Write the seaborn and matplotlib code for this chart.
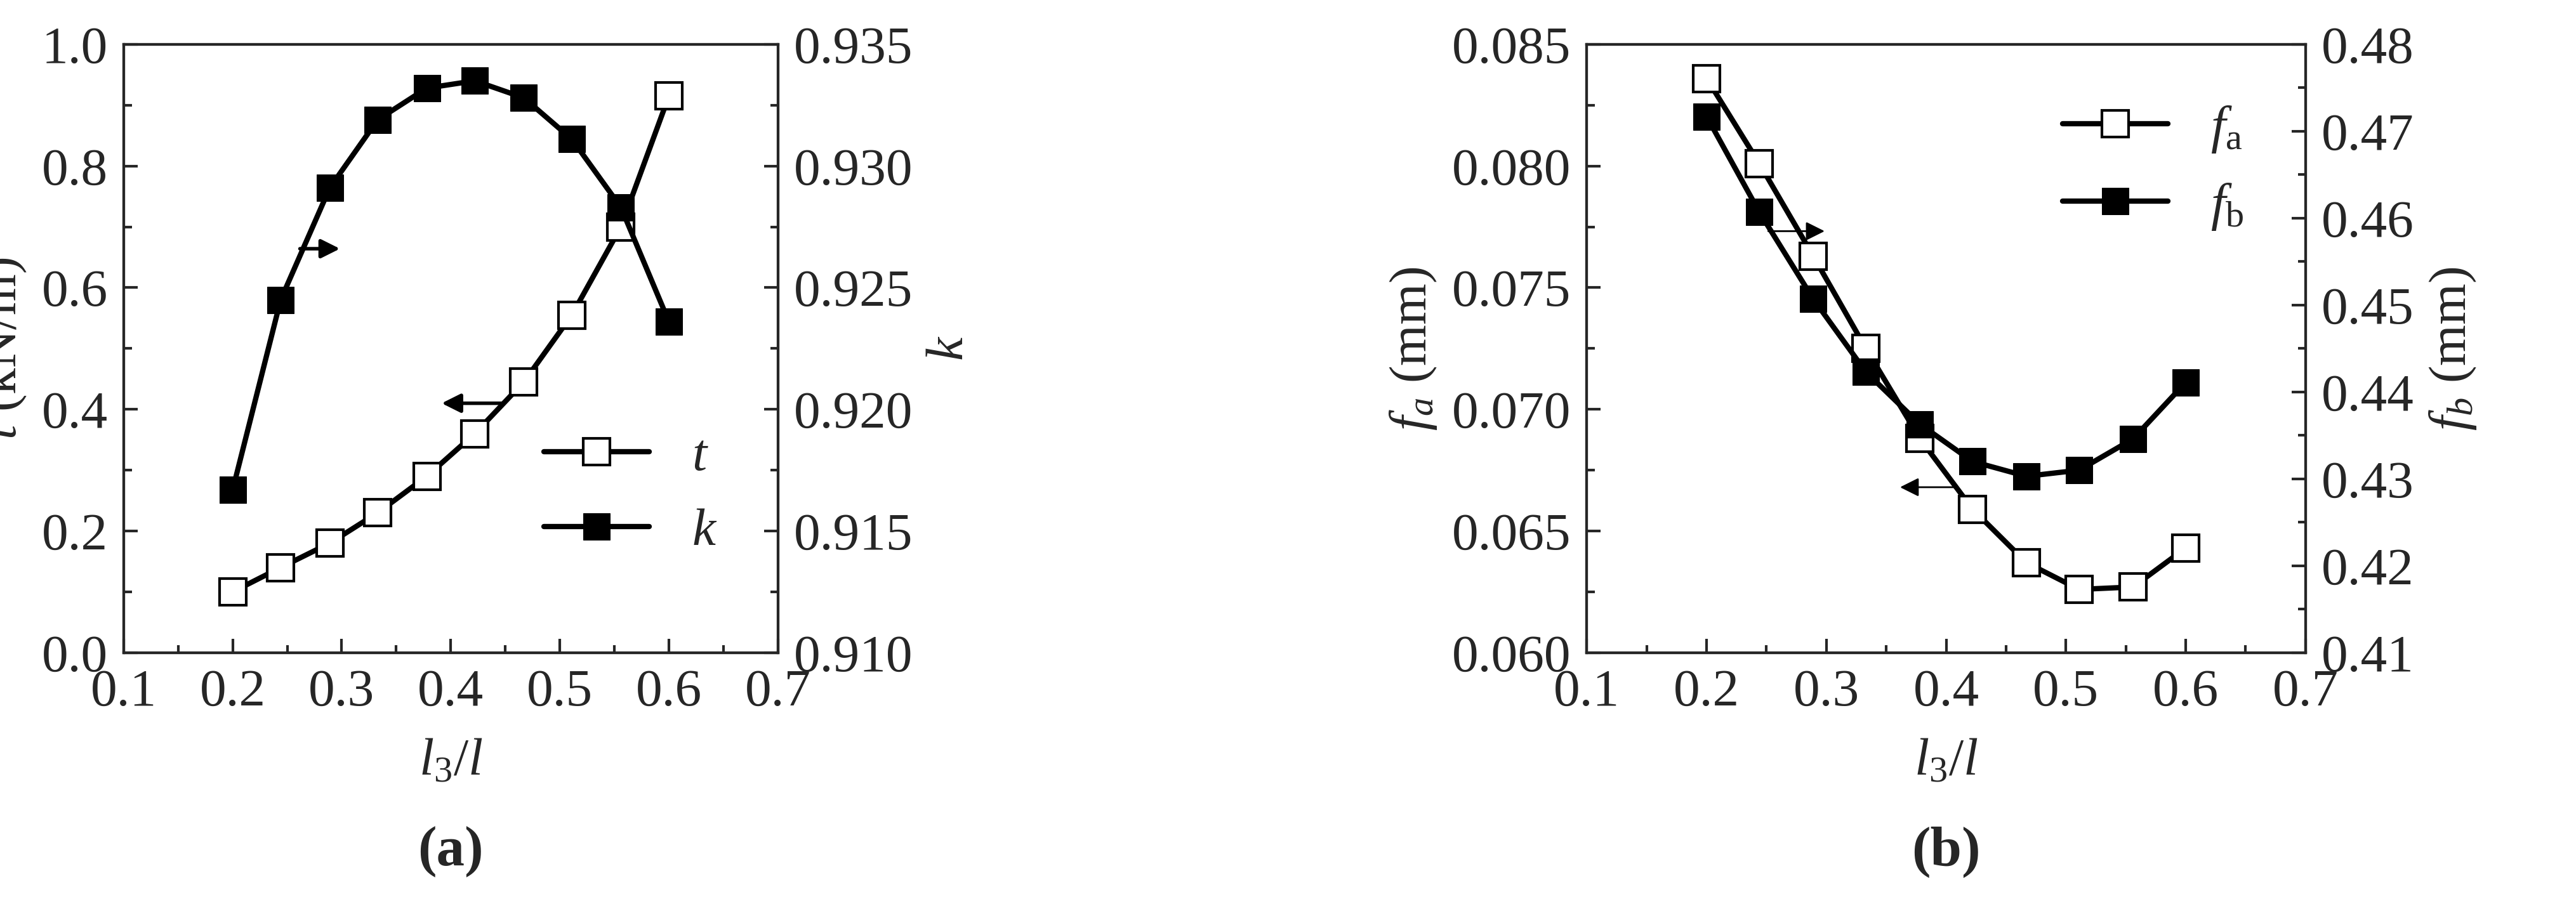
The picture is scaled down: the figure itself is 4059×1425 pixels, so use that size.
import numpy as np
import matplotlib
matplotlib.use('Agg')
import matplotlib.pyplot as plt
import seaborn as sns
from matplotlib.ticker import MultipleLocator

sns.set_style('ticks')
plt.rcParams['font.family'] = ['Liberation Serif', 'DejaVu Serif']
plt.rcParams['mathtext.fontset'] = 'custom'
plt.rcParams['mathtext.it'] = 'Liberation Serif:italic'
plt.rcParams['mathtext.rm'] = 'Liberation Serif'

ratio = [0.2, 0.244, 0.289, 0.333, 0.378, 0.422, 0.467, 0.511, 0.556, 0.6]
t_vals = [0.10, 0.14, 0.18, 0.23, 0.29, 0.36, 0.445, 0.555, 0.70, 0.915]
k_vals = [0.9167, 0.9245, 0.9291, 0.9319, 0.9332, 0.9335, 0.9328, 0.9311, 0.9283, 0.9236]
fa_vals = [0.0836, 0.0801, 0.0763, 0.0725, 0.0688, 0.0659, 0.0637, 0.0626, 0.0627, 0.0643]
fb_vals = [0.4717, 0.4607, 0.4507, 0.4423, 0.4363, 0.4320, 0.4303, 0.4310, 0.4346, 0.4411]

fig = plt.figure(figsize=(40.59, 14.25), dpi=100)
FS = 60
lw = 6
ms = 30

def style(ax):
    ax.tick_params(direction='in', which='both', labelsize=FS, width=3, pad=18)
    ax.tick_params(which='major', length=16)
    ax.tick_params(which='minor', length=9)
    for s in ax.spines.values():
        s.set_linewidth(3)
        s.set_visible(True)

def panel(rect, y1, y2, ylim1, ylim2, step1, step2, fmt1, fmt2, lab1, lab2, leg1, leg2, arrows, letter):
    ax = fig.add_axes(rect)
    ax2 = ax.twinx()
    sns.lineplot(x=ratio, y=y1, ax=ax, color='black', lw=lw, marker='s', ms=ms,
                 mfc='white', mec='black', mew=3, label=leg1, legend=False)
    sns.lineplot(x=ratio, y=y2, ax=ax2, color='black', lw=lw, marker='s', ms=ms,
                 mfc='black', mec='black', label=leg2, legend=False)
    ax.set_xlim(0.1, 0.7)
    ax.set_ylim(*ylim1)
    ax2.set_ylim(*ylim2)
    ax.xaxis.set_major_locator(MultipleLocator(0.1))
    ax.xaxis.set_minor_locator(MultipleLocator(0.05))
    ax.yaxis.set_major_locator(MultipleLocator(step1))
    ax.yaxis.set_minor_locator(MultipleLocator(step1 / 2))
    ax2.yaxis.set_major_locator(MultipleLocator(step2))
    ax2.yaxis.set_minor_locator(MultipleLocator(step2 / 2))
    ax.yaxis.set_major_formatter(fmt1)
    ax2.yaxis.set_major_formatter(fmt2)
    style(ax)
    style(ax2)
    ax.set_xlabel(r'$l_3/l$', fontsize=FS, labelpad=25)
    ax.set_ylabel(lab1, fontsize=FS, labelpad=15)
    ax2.set_ylabel(lab2, fontsize=FS, labelpad=15)
    h1, l1 = ax.get_legend_handles_labels()
    h2, l2 = ax2.get_legend_handles_labels()
    if letter == 'a':
        ax2.legend(h1 + h2, l1 + l2, loc='lower right', frameon=False, fontsize=FS,
                   handlelength=2.0, bbox_to_anchor=(0.98, 0.08))
    else:
        ax2.legend(h1 + h2, l1 + l2, loc='upper right', frameon=False, fontsize=FS,
                   handlelength=2.0, bbox_to_anchor=(0.98, 0.98))
    for (x0, y0, x1, y1_, which, w) in arrows:
        tgt = ax if which == 1 else ax2
        tgt.annotate('', xy=(x1, y1_), xytext=(x0, y0),
                     arrowprops=dict(arrowstyle='-|>', color='black', lw=w, mutation_scale=45))
    ax.text(0.5, -0.35, '(' + letter + ')', transform=ax.transAxes, ha='center',
            fontsize=FS + 4, fontweight='bold')
    return ax

fmt = lambda d: matplotlib.ticker.FormatStrFormatter('%.' + str(d) + 'f')
panel([0.048, 0.278, 0.254, 0.673], t_vals, k_vals, (0.0, 1.0), (0.910, 0.935), 0.2, 0.005,
      fmt(1), fmt(3), r'$t$ (kN/m)', r'$k$', r'$t$', r'$k$',
      [(0.26, 0.9266, 0.30, 0.9266, 2, 4), (0.45, 0.41, 0.39, 0.41, 1, 4)], 'a')
panel([0.616, 0.278, 0.279, 0.673], fa_vals, fb_vals, (0.060, 0.085), (0.41, 0.48), 0.005, 0.01,
      fmt(3), fmt(2), r'$f_a$ (mm)', r'$f_b$ (mm)', r'$f_{\mathrm{a}}$', r'$f_{\mathrm{b}}$',
      [(0.25, 0.4585, 0.30, 0.4585, 2, 2), (0.41, 0.0668, 0.36, 0.0668, 1, 2)], 'b')

fig.savefig('out.png', dpi=100)
